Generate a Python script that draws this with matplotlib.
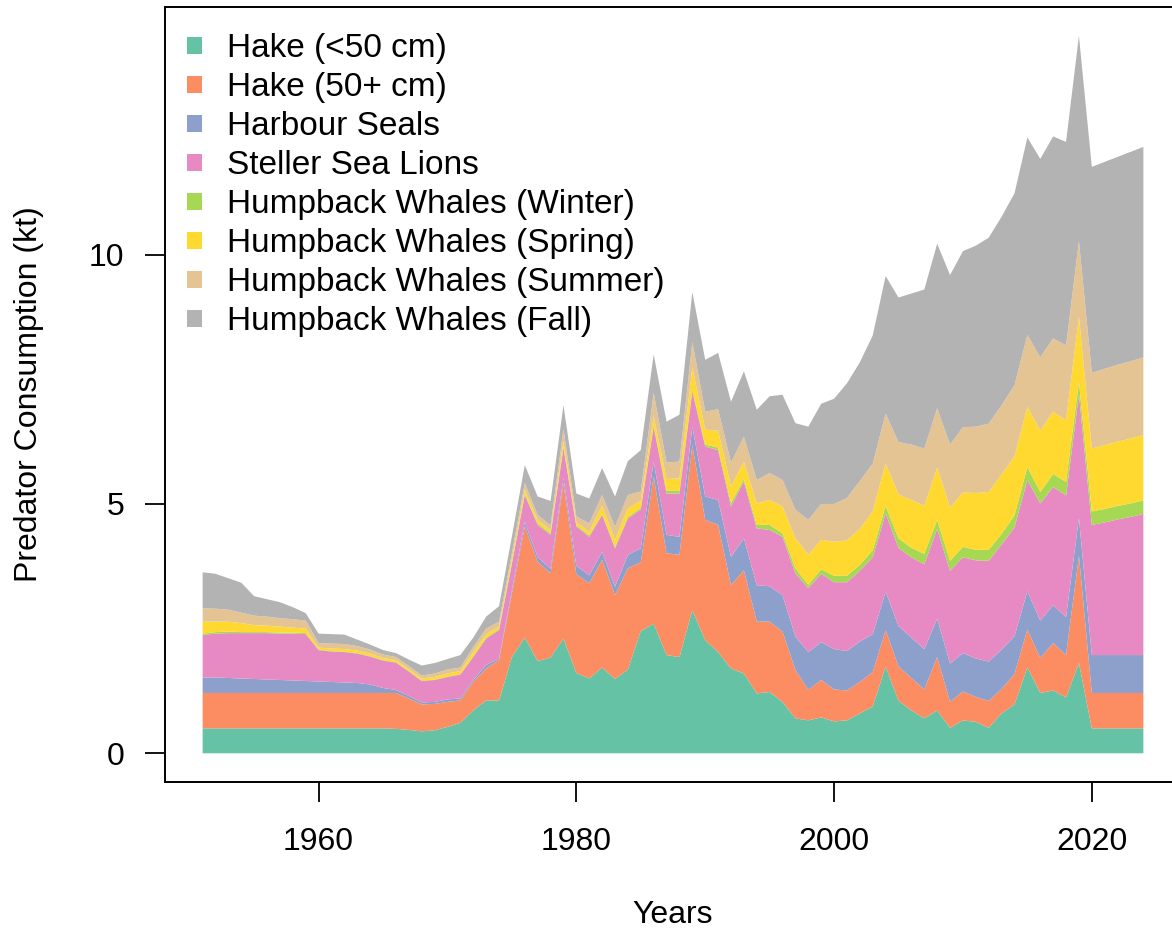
import numpy as np
import matplotlib.pyplot as plt
from matplotlib.patches import Patch

plt.rcParams['font.family'] = ['Liberation Sans', 'DejaVu Sans']

# ---- annual consumption of hake by predator (kt) ----
years = list(range(1951, 2025))

hake_small = [0.50, 0.50, 0.50, 0.50, 0.50, 0.50, 0.50, 0.50, 0.50, 0.50,
              0.50, 0.50, 0.50, 0.50, 0.50, 0.49, 0.47, 0.44, 0.46, 0.53,
              0.61, 0.86, 1.06, 1.06, 1.93, 2.32, 1.85, 1.92, 2.30, 1.61,
              1.50, 1.72, 1.49, 1.68, 2.45, 2.60, 1.97, 1.93, 2.87, 2.27,
              2.03, 1.70, 1.60, 1.20, 1.23, 1.03, 0.70, 0.66, 0.72, 0.64,
              0.66, 0.80, 0.94, 1.74, 1.05, 0.86, 0.70, 0.86, 0.51, 0.66,
              0.63, 0.51, 0.80, 0.98, 1.72, 1.21, 1.26, 1.12, 1.81, 0.50,
              0.50, 0.50, 0.50, 0.50]
hake_large = [0.71, 0.71, 0.71, 0.71, 0.71, 0.71, 0.71, 0.71, 0.71, 0.71,
              0.71, 0.71, 0.71, 0.71, 0.71, 0.72, 0.63, 0.54, 0.53, 0.50,
              0.45, 0.57, 0.64, 0.81, 1.27, 2.23, 1.99, 1.69, 3.12, 1.98,
              1.91, 2.16, 1.68, 2.03, 1.38, 2.95, 2.04, 2.05, 3.31, 2.41,
              2.55, 1.67, 2.07, 1.44, 1.41, 1.41, 0.97, 0.61, 0.75, 0.64,
              0.60, 0.63, 0.69, 0.73, 0.69, 0.65, 0.58, 1.07, 0.52, 0.58,
              0.50, 0.54, 0.49, 0.61, 0.76, 0.70, 0.95, 0.85, 2.15, 0.71,
              0.71, 0.71, 0.71, 0.71]
harbour_seals = [0.31, 0.31, 0.30, 0.29, 0.28, 0.27, 0.26, 0.25, 0.24, 0.23,
                 0.22, 0.21, 0.20, 0.17, 0.10, 0.06, 0.05, 0.04, 0.04, 0.05,
                 0.04, 0.04, 0.07, 0.03, 0.07, 0.09, 0.09, 0.09, 0.10, 0.17,
                 0.16, 0.16, 0.17, 0.27, 0.28, 0.30, 0.37, 0.36, 0.37, 0.47,
                 0.50, 0.57, 0.64, 0.73, 0.71, 0.73, 0.67, 0.76, 0.76, 0.81,
                 0.79, 0.81, 0.76, 0.77, 0.81, 0.81, 0.81, 0.77, 0.77, 0.77,
                 0.77, 0.79, 0.79, 0.76, 0.77, 0.75, 0.76, 0.76, 0.76, 0.76,
                 0.76, 0.76, 0.76, 0.76]
sea_lions = [0.85, 0.88, 0.90, 0.91, 0.92, 0.93, 0.93, 0.94, 0.94, 0.63,
             0.61, 0.61, 0.59, 0.56, 0.55, 0.55, 0.49, 0.43, 0.44, 0.45,
             0.48, 0.46, 0.53, 0.57, 0.53, 0.54, 0.65, 0.68, 0.60, 0.79,
             0.77, 0.74, 0.77, 0.73, 0.78, 0.70, 0.83, 0.87, 0.71, 1.00,
             1.00, 1.01, 1.14, 1.14, 1.13, 1.17, 1.27, 1.28, 1.37, 1.34,
             1.38, 1.42, 1.54, 1.57, 1.57, 1.61, 1.70, 1.80, 1.86, 1.92,
             1.97, 2.02, 2.11, 2.18, 2.23, 2.35, 2.37, 2.44, 2.48, 2.61,
             2.66, 2.72, 2.77, 2.83]
hw_winter = [0.03, 0.03, 0.03, 0.02, 0.02, 0.02, 0.02, 0.02, 0.02, 0.01,
             0.01, 0.01, 0.01, 0.01, 0.01, 0.01, 0.01, 0.01, 0.01, 0.01,
             0.01, 0.02, 0.02, 0.02, 0.02, 0.02, 0.03, 0.03, 0.03, 0.02,
             0.03, 0.02, 0.03, 0.03, 0.03, 0.03, 0.06, 0.06, 0.04, 0.04,
             0.05, 0.07, 0.05, 0.07, 0.10, 0.07, 0.10, 0.07, 0.09, 0.13,
             0.13, 0.12, 0.14, 0.15, 0.19, 0.19, 0.21, 0.18, 0.20, 0.21,
             0.21, 0.22, 0.21, 0.24, 0.26, 0.23, 0.26, 0.27, 0.25, 0.27,
             0.27, 0.27, 0.27, 0.27]
hw_spring = [0.24, 0.21, 0.20, 0.18, 0.14, 0.13, 0.12, 0.10, 0.09, 0.04,
             0.05, 0.05, 0.05, 0.05, 0.04, 0.04, 0.04, 0.04, 0.05, 0.06,
             0.06, 0.08, 0.07, 0.05, 0.08, 0.08, 0.07, 0.06, 0.11, 0.06,
             0.07, 0.16, 0.14, 0.17, 0.14, 0.18, 0.23, 0.24, 0.44, 0.30,
             0.34, 0.33, 0.35, 0.43, 0.50, 0.54, 0.60, 0.60, 0.59, 0.68,
             0.71, 0.72, 0.78, 0.85, 0.88, 0.96, 0.96, 1.05, 1.07, 1.09,
             1.14, 1.16, 1.19, 1.18, 1.21, 1.23, 1.25, 1.24, 1.30, 1.26,
             1.28, 1.29, 1.30, 1.31]
hw_summer = [0.27, 0.26, 0.24, 0.21, 0.19, 0.18, 0.17, 0.17, 0.16, 0.09,
             0.10, 0.10, 0.09, 0.08, 0.07, 0.06, 0.06, 0.06, 0.07, 0.08,
             0.07, 0.10, 0.11, 0.10, 0.12, 0.14, 0.10, 0.10, 0.24, 0.12,
             0.17, 0.22, 0.26, 0.27, 0.19, 0.47, 0.33, 0.34, 0.51, 0.36,
             0.43, 0.48, 0.50, 0.47, 0.54, 0.53, 0.57, 0.70, 0.72, 0.76,
             0.85, 0.96, 0.96, 1.00, 1.05, 1.11, 1.15, 1.19, 1.26, 1.31,
             1.33, 1.37, 1.39, 1.43, 1.44, 1.47, 1.47, 1.50, 1.52, 1.52,
             1.53, 1.54, 1.55, 1.56]
hw_fall = [0.72, 0.70, 0.63, 0.60, 0.39, 0.35, 0.32, 0.24, 0.15, 0.19,
           0.19, 0.19, 0.13, 0.10, 0.09, 0.08, 0.13, 0.20, 0.21, 0.21,
           0.25, 0.19, 0.24, 0.31, 0.33, 0.36, 0.37, 0.49, 0.48, 0.46,
           0.50, 0.54, 0.61, 0.68, 0.83, 0.77, 0.82, 0.94, 1.00, 1.04,
           1.13, 1.22, 1.31, 1.41, 1.54, 1.71, 1.74, 1.87, 2.01, 2.11,
           2.30, 2.38, 2.57, 2.76, 2.90, 3.03, 3.19, 3.30, 3.40, 3.53,
           3.63, 3.73, 3.78, 3.85, 3.96, 3.98, 4.05, 4.08, 4.12, 4.13,
           4.15, 4.17, 4.20, 4.22]

labels = ["Hake (<50 cm)", "Hake (50+ cm)", "Harbour Seals", "Steller Sea Lions",
          "Humpback Whales (Winter)", "Humpback Whales (Spring)",
          "Humpback Whales (Summer)", "Humpback Whales (Fall)"]
colors = ["#66C2A5", "#FC8D62", "#8DA0CB", "#E78AC3",
          "#A6D854", "#FFD92F", "#E5C494", "#B3B3B3"]

series = [hake_small, hake_large, harbour_seals, sea_lions,
          hw_winter, hw_spring, hw_summer, hw_fall]

# ---- plot ----
fig = plt.figure(figsize=(11.72, 9.36), dpi=100)
ax = fig.add_axes([165 / 1172, 154 / 936, 1016 / 1172, 775 / 936])

ax.stackplot(years, *series, colors=colors, linewidth=0)

# base-R style 4% padding on both axes
span = years[-1] - years[0]
ax.set_xlim(years[0] - 0.04 * span, years[-1] + 0.04 * span)
top = np.sum(series, axis=0).max()
ax.set_ylim(-0.04 * top, 1.04 * top)

ax.set_xticks([1960, 1980, 2000, 2020])
ax.set_yticks([0, 5, 10])
ax.tick_params(direction='out', length=14.5, width=1.3, labelsize=23, colors='black')
ax.tick_params(axis='x', pad=18)
ax.tick_params(axis='y', pad=15)
for sp in ax.spines.values():
    sp.set_linewidth(1.4)

ax.set_xlabel("Years", fontsize=23, va='center')
ax.xaxis.set_label_coords(0.5, -0.1716)
ax.set_ylabel("Predator Consumption (kt)", fontsize=23, va='center')
ax.yaxis.set_label_coords(-0.1339, 0.5)

handles = [Patch(facecolor=c, edgecolor='none') for c in colors]
ax.legend(handles, labels, loc='upper left', bbox_to_anchor=(0.0215, 0.966),
          frameon=False, fontsize=24, handlelength=0.45, handleheight=0.45,
          handletextpad=0.75, labelspacing=0.24, borderpad=0, borderaxespad=0)

fig.savefig("out.png", dpi=100)
